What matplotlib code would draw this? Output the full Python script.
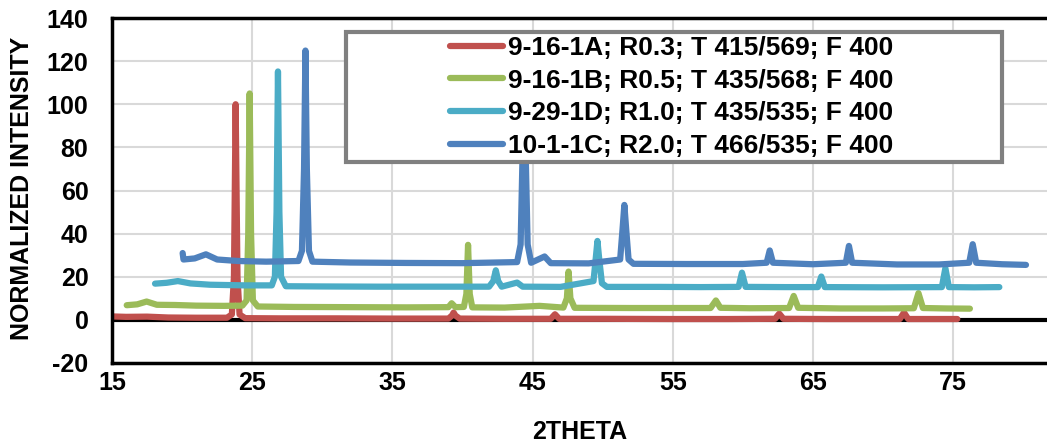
import matplotlib
matplotlib.use("Agg")
from matplotlib import pyplot as plt
from matplotlib.patches import Rectangle

plt.rcParams['font.family'] = ['Liberation Sans', 'DejaVu Sans']
plt.rcParams['font.weight'] = 'bold'
plt.rcParams['axes.unicode_minus'] = False

# series labels and colours
labels = ['9-16-1A; R0.3; T 415/569; F 400',
          '9-16-1B; R0.5; T 435/568; F 400',
          '9-29-1D; R1.0; T 435/535; F 400',
          '10-1-1C; R2.0; T 466/535; F 400']
colors = ['#C0504D', '#9BBB59', '#4BACC6', '#4F81BD']

# 9-16-1A
red_x = [15.0, 16.0, 17.5, 19.0, 21.0, 23.2, 23.55, 23.7, 23.82, 23.95, 24.1, 24.5,
         27.0, 31.0, 35.0, 39.0, 39.25, 39.37, 39.5, 39.8, 43.0, 46.3, 46.6, 46.9,
         50.0, 55.0, 59.0, 62.3, 62.6, 62.9, 66.0, 71.2, 71.5, 71.8, 73.5, 75.3]
red_y = [1.6, 1.4, 1.5, 1.1, 1.0, 1.0, 2.5, 20, 100, 20, 2.5, 0.8,
         0.7, 0.7, 0.6, 0.6, 2.0, 3.4, 2.0, 0.6, 0.5, 0.5, 2.6, 0.5,
         0.5, 0.4, 0.4, 0.5, 2.9, 0.5, 0.4, 0.4, 3.4, 0.4, 0.4, 0.4]

# 9-16-1B
green_x = [16.05, 16.8, 17.47, 18.2, 19.5, 21.0, 23.0, 24.3, 24.6, 24.72, 24.82, 24.92,
           25.05, 25.4, 28.0, 32.0, 36.0, 39.0, 39.23, 39.5, 40.1, 40.28, 40.4, 40.52,
           40.7, 43.0, 45.5, 47.2, 47.45, 47.57, 47.7, 48.0, 52.0, 55.0, 57.7, 58.08,
           58.4, 60.5, 63.3, 63.63, 63.95, 67.0, 70.0, 72.2, 72.53, 72.85, 74.5, 76.2]
green_y = [6.8, 7.2, 8.5, 7.0, 6.9, 6.6, 6.5, 6.6, 9, 40, 105, 40,
           9, 6.2, 6.0, 5.9, 5.8, 5.9, 7.7, 5.9, 6.0, 12, 34.8, 12,
           5.8, 5.7, 6.5, 5.7, 10, 22.4, 10, 5.6, 5.5, 5.5, 5.5, 9.0,
           5.6, 5.4, 5.5, 11.1, 5.6, 5.3, 5.3, 5.4, 12.4, 5.5, 5.3, 5.2]

# 9-29-1D
cyan_x = [18.07, 18.9, 19.7, 20.6, 22.0, 24.5, 26.4, 26.62, 26.74, 26.84, 26.94, 27.06,
          27.4, 30.0, 34.0, 38.0, 41.9, 42.2, 42.38, 42.55, 42.8, 43.9, 44.3, 47.0,
          49.35, 49.5, 49.63, 49.76, 49.95, 50.3, 54.0, 57.0, 59.7, 59.94, 60.2, 63.0,
          65.35, 65.6, 65.85, 70.0, 74.2, 74.45, 74.7, 76.5, 78.3]
cyan_y = [16.8, 17.2, 18.0, 16.9, 16.3, 16.0, 16.0, 20, 50, 115.2, 50, 20,
          15.6, 15.5, 15.4, 15.4, 15.4, 18, 23, 18, 15.4, 17.3, 15.4, 15.3,
          18, 28, 36.6, 28, 17, 15.3, 15.3, 15.2, 15.3, 21.9, 15.3, 15.2,
          15.2, 20.1, 15.2, 15.1, 15.2, 24, 15.2, 15.1, 15.2]

# 10-1-1C
blue_x = [20.04, 20.1, 20.9, 21.7, 22.5, 24.0, 26.0, 28.3, 28.55, 28.7, 28.8, 28.9,
          29.05, 29.3, 32.0, 36.0, 40.0, 43.9, 44.15, 44.3, 44.4, 44.5, 44.65, 44.9,
          45.86, 46.3, 49.0, 51.25, 51.42, 51.55, 51.68, 51.85, 52.2, 56.0, 60.0, 61.7,
          61.92, 62.15, 65.0, 67.35, 67.57, 67.8, 71.0, 74.0, 76.15, 76.4, 76.65, 78.5, 80.2]
blue_y = [31.0, 28.0, 28.5, 30.4, 28.0, 27.3, 27.0, 27.3, 32, 70, 124.9, 70,
          32, 27.0, 26.6, 26.4, 26.3, 26.8, 35, 80, 96, 80, 35, 26.5,
          29.4, 26.3, 26.2, 28, 42, 53.3, 42, 28, 26.0, 25.9, 25.9, 26.5,
          32.2, 26.5, 25.8, 26.5, 34.3, 26.5, 25.7, 25.7, 26.5, 35.1, 26.5, 25.8, 25.5]

x_ticks = [15, 25, 35, 45, 55, 65, 75]
y_ticks = [-20, 0, 20, 40, 60, 80, 100, 120, 140]

fig = plt.figure(figsize=(10.47, 4.46), dpi=100)
ax = fig.add_axes([112 / 1047, 83 / 446, 935 / 1047, 345 / 446])

ax.axhline(0, color='black', lw=3, zorder=1)
series = [(red_x, red_y), (green_x, green_y), (cyan_x, cyan_y), (blue_x, blue_y)]
for (xs, ys), c, lab in zip(series, colors, labels):
    ax.plot(xs, ys, color=c, lw=4.5, label=lab, solid_capstyle='round', zorder=2)

ax.set_xlim(15, 81.7)
ax.set_ylim(-20, 140)
ax.set_xticks(x_ticks)
ax.set_yticks(y_ticks)
ax.grid(True, color='#D9D9D9', lw=1.5)
ax.set_axisbelow(True)
ax.tick_params(length=0, labelsize=18)
ax.tick_params(axis='y', pad=17)
ax.tick_params(axis='x', pad=6)
for s in ['left', 'top', 'bottom']:
    ax.spines[s].set_linewidth(2.5)
    ax.spines[s].set_color('black')
ax.spines['right'].set_visible(False)

fig.text(580 / 1047, 1 - 432 / 446, '2THETA', ha='center', va='center', fontsize=18, fontweight='bold')
fig.text(22 / 1047, 1 - 188 / 446, 'NORMALIZED INTENSITY', ha='center', va='center',
         rotation=90, fontsize=18, fontweight='bold')

# legend box
box = Rectangle((346 / 1047, 1 - 162 / 446), 656 / 1047, 130 / 446, transform=fig.transFigure,
                facecolor='white', edgecolor='#808080', lw=3, zorder=5, clip_on=False)
ax.add_patch(box)
leg = ax.legend(loc='upper left', bbox_to_anchor=(450 / 1047, 1 - 36 / 446),
                bbox_transform=fig.transFigure, frameon=False, fontsize=19,
                borderpad=0, borderaxespad=0, handlelength=2.0, handletextpad=0.2,
                labelspacing=0.33)
for h in leg.get_lines():
    h.set_linewidth(4.5)
leg.set_zorder(10)

plt.savefig('out.png', dpi=100)
